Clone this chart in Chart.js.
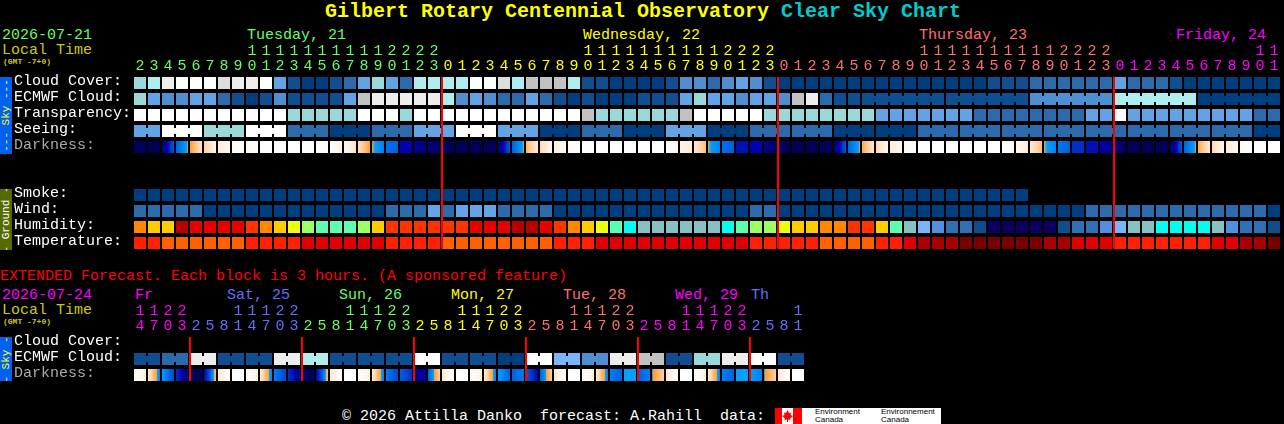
<!DOCTYPE html>
<html><head><meta charset="utf-8">
<style>
html,body{margin:0;padding:0;background:#000;width:1284px;height:424px;overflow:hidden}
canvas{position:absolute;left:0}
.t{position:absolute;font:15px/15px "Liberation Mono",monospace;white-space:pre}
.s{position:absolute;left:0;width:12px;display:flex;align-items:center;justify-content:center;overflow:hidden}
.s span{display:block;transform:rotate(-90deg);font:11px/11px "Liberation Mono",monospace;white-space:pre}
.sm{font:bold 8px/8px "Liberation Mono",monospace;color:#cccc00}
</style>
<script src="https://cdn.jsdelivr.net/npm/chart.js@4"></script>
</head><body>
<div class="t" style="left:325px;top:1px;font:bold 20px/22px 'Liberation Mono',monospace;color:#ffff00">Gilbert Rotary Centennial Observatory <span style="color:#00cccc">Clear Sky Chart</span></div>
<div class="t" style="left:2px;top:28px;color:#66ff66">2026-07-21</div>
<div class="t" style="left:2px;top:43px;color:#cccc00">Local Time</div>
<div class="t sm" style="left:3px;top:58px">(GMT -7+0)</div>
<div class="t" style="left:247px;top:28px;color:#66ff66">Tuesday, 21</div>
<div class="t" style="left:583px;top:28px;color:#ffff00">Wednesday, 22</div>
<div class="t" style="left:919px;top:28px;color:#ff7070">Thursday, 23</div>
<div class="t" style="left:1176px;top:28px;color:#ff00ff">Friday, 24</div>
<div class="t" style="left:0;top:269px;color:#ff0000">EXTENDED Forecast. Each block is 3 hours. (A sponsored feature)</div>
<div class="t" style="left:2px;top:288px;color:#ff00ff">2026-07-24</div>
<div class="t" style="left:2px;top:303px;color:#cccc00">Local Time</div>
<div class="t sm" style="left:3px;top:318px">(GMT -7+0)</div>
<div class="t" style="left:135px;top:288px;color:#ff00ff">Fr</div>
<div class="t" style="left:227px;top:288px;color:#6a6aff">Sat, 25</div>
<div class="t" style="left:339px;top:288px;color:#66ff66">Sun, 26</div>
<div class="t" style="left:451px;top:288px;color:#ffff00">Mon, 27</div>
<div class="t" style="left:563px;top:288px;color:#ff7070">Tue, 28</div>
<div class="t" style="left:675px;top:288px;color:#ff00ff">Wed, 29</div>
<div class="t" style="left:751px;top:288px;color:#6a6aff">Th</div>
<div class="s" style="top:77px;height:77px;background:#0060f0"><span style="color:#ffff00">--- Sky ---</span></div>
<div class="s" style="top:189px;height:61px;background:#556b00"><span style="color:#ffffff">- Ground -</span></div>
<div class="s" style="top:337px;height:44px;background:#0060f0"><span style="color:#ffff00">- Sky -</span></div>
<div class="t" style="left:342px;top:409px;color:#fff">© 2026 Attilla Danko  forecast: A.Rahill  data:</div>
<div style="position:absolute;left:775px;top:408px;width:166px;height:16px;background:#fff;overflow:hidden">
  <div style="position:absolute;left:0;top:0;width:7px;height:16px;background:#f00"></div>
  <div style="position:absolute;left:18px;top:0;width:9px;height:16px;background:#f00"></div>
  <svg style="position:absolute;left:7px;top:2px" width="11" height="12" viewBox="0 0 11 12"><polygon fill="#f00" points="5.5,0 7,3 9,2.5 8.5,5 11,6 8,8.5 8.5,10 6,9.5 6,12 5,12 5,9.5 2.5,10 3,8.5 0,6 2.5,5 2,2.5 4,3" /></svg>
  <div style="position:absolute;left:40px;top:0;font:8px/8px 'Liberation Sans',sans-serif;color:#000">Environment<br>Canada</div>
  <div style="position:absolute;left:106px;top:0;font:8px/8px 'Liberation Sans',sans-serif;color:#000;white-space:nowrap">Environnement<br>Canada</div>
</div>
<canvas id="mainChart" width="1284" height="260" style="top:0"></canvas>
<canvas id="extChart" width="1284" height="92" style="top:296px"></canvas>
<script>
// ---- categories and tick labels ----
const hoursMain=[2,3,4,5,6,7,8,9,10,11,12,13,14,15,16,17,18,19,20,21,22,23,
0,1,2,3,4,5,6,7,8,9,10,11,12,13,14,15,16,17,18,19,20,21,22,23,
0,1,2,3,4,5,6,7,8,9,10,11,12,13,14,15,16,17,18,19,20,21,22,23,
0,1,2,3,4,5,6,7,8,9,10,11];
const hoursExt=[14,17,20,23,2,5,8,11,14,17,20,23,2,5,8,11,14,17,20,23,2,5,8,11,14,17,20,23,
2,5,8,11,14,17,20,23,2,5,8,11,14,17,20,23,2,5,8,11];
const dayStartsMain=[0,22,46,70];
const dayColorsMain=['#66ff66','#ffff00','#ff7070','#ff00ff'];
const dayStartsExt=[0,4,12,20,28,36,44];
const dayColorsExt=['#ff00ff','#6a6aff','#66ff66','#ffff00','#ff7070','#ff00ff','#6a6aff'];
const rowLabelsMain=['Cloud Cover:','ECMWF Cloud:','Transparency:','Seeing:','Darkness:','Smoke:','Wind:','Humidity:','Temperature:'];
const rowPosMain=[0,1,2,3,4,7,8,9,10];
const rowLabelsExt=['Cloud Cover:','ECMWF Cloud:','Darkness:'];
const rowPosExt=[0,1,2];
const midnightsMain=[21.5714,45.5714,69.5714];
const midnightsExt=[3.5714,11.5714,19.5714,27.5714,35.5714,43.5714];

// ---- colour levels ----
const skyColors=['#003f7f','#0f4f8f','#2b6bab','#4f8fcf','#62a3e6','#77b7f7','#99d9d9','#afeeee','#c2c2c2','#dedede','#ededed','#ffffff'];
const windColors=['#003f7f','#2c6cac','#63a3e6'];
const humidityColors=['#0a0060','#0f4e88','#2f70b4','#5090dc','#78b4f8','#87c1c1','#00ffee','#5cffb0','#9cff64','#ecff10','#ffcc00','#ff8800','#ff3300','#e60000','#b80000'];
const tempColors=['#ff6000','#ff2000','#e00000','#a80000','#780000'];
const darkStops=[[0,0,36],[0,0,80],[0,0,128],[0,0,176],[0,48,200],[0,96,224],[0,160,255],[255,160,48],[255,208,160],[255,240,224],[255,255,255]];

// ---- main forecast rows (one value per hour) ----
const cloudCover=[6,7,10,11,11,11,9,10,10,11,4,1,0,0,1,2,4,6,4,2,7,7,
7,7,11,11,9,7,8,8,8,7,1,1,0,0,0,0,1,3,3,2,3,4,3,1,
0,0,0,0,0,0,0,0,0,0,0,0,0,0,0,1,1,1,2,2,2,2,2,2,
4,2,2,2,1,0,0,0,0,0,0,0];
const ecmwfCloud=[6,4,3,3,4,4,2,1,0,1,3,1,1,1,1,4,8,10,10,10,10,10,
7,3,4,3,2,2,4,2,1,0,1,0,0,0,1,1,1,4,6,4,4,3,4,4,
3,8,10,2,1,1,1,1,1,1,1,1,1,1,1,1,1,1,3,3,3,3,3,3,
7,7,7,7,7,7,0,0,0,0,0,0];
const ecmwfGroups=[52,6,6,6,6,6];
const transparency=[11,11,11,11,11,11,11,11,11,11,11,6,6,6,6,6,11,11,11,6,11,11,
11,11,11,11,11,11,11,11,11,11,8,6,6,6,6,6,6,8,11,11,11,11,11,6,
6,6,6,6,6,6,6,4,4,4,4,4,4,4,2,2,2,2,2,2,2,2,4,4,
11,4,4,4,4,4,4,4,4,4,2,2];
const seeing=[4,4,11,11,11,6,6,6,11,11,11,2,2,2,0,0,0,2,2,2,4,4,
4,11,11,11,4,4,4,0,0,0,2,2,2,0,0,0,4,4,4,0,0,0,2,2,
2,2,2,2,0,0,0,0,0,0,2,2,2,2,2,2,2,2,2,2,2,2,2,2,
2,2,2,2,2,2,2,2,2,2,0,0];
const seeingGroups=[2,3,3,3,3,3,3,3,3,3,3,3,3,3,3,3,3,3,3,3,3,3,3,3,3,3,3,2];
const darknessStart=[1.3,1,1.5,5,7,8,8.8,9.5,9.6,10,10,10,10,10,10,9.5,8.5,7,5.3,3,2.5,2,
1.2,1.2,1.2,1.1,1.5,5,7.5,8.3,9,9.6,10,10,10,10,10,10,10,9.3,8.7,7,5.3,3.3,3,2.3,
1.2,1.1,1.1,1.1,1.5,5,7.2,8.3,8.8,9.5,10,10,10,10,10,10,10,9.5,8.8,7,5.4,4,3.3,3,
1.8,1.1,1.1,1.1,1.2,5,7.2,8.3,8.8,9.5,10,10];
const darknessEnd=[1.3,1,5,6.9,8.6,9.2,9.5,10,10,10,10,10,10,10,9,8.5,7,5.5,5,3,2,1.5,
1.2,1.2,1.2,1.1,5,7,8.8,9.3,9.6,10,10,10,10,10,10,10,9.3,8.8,7.6,5.5,5,3.3,3,1.5,
1.2,1.1,1.1,1.1,5,7,8.8,9.3,9.5,10,10,10,10,10,10,10,9.5,8.8,7.6,5.5,5,4,3.3,2.5,
1.3,1.1,1.1,1.1,5,7,8.8,9.3,9.5,10,10,10];
const smoke=[0,0,0,0,0,0,0,0,0,0,0,0,0,0,0,0,0,0,0,0,0,0,
0,0,0,0,0,0,0,0,0,0,0,0,0,0,0,0,0,0,0,0,0,0,0,0,
0,0,0,0,0,0,0,0,0,0,0,0,0,0,0,0,0,0];
const wind=[1,1,1,1,1,0,0,0,0,0,0,0,0,0,0,0,0,0,1,1,1,2,
1,2,2,2,1,1,1,1,0,0,0,0,0,0,0,0,0,0,0,0,0,0,1,1,
0,0,0,0,0,0,0,0,0,0,0,0,0,0,0,0,0,0,0,0,0,0,1,1,
1,1,1,1,1,1,1,1,1,1,1,0];
const humidity=[11,10,10,14,13,13,13,13,12,11,10,9,8,7,7,7,8,10,12,12,12,12,
12,12,13,13,13,14,14,13,12,11,10,9,7,6,5,5,5,5,5,5,6,7,8,8,
9,10,10,11,11,12,12,10,7,5,4,3,2,2,1,0,0,0,0,0,1,2,2,3,
4,5,5,6,6,6,6,5,3,2,2,1];
const temperature=[1,1,0,0,0,0,0,0,1,1,1,1,2,2,2,2,2,2,1,1,1,1,
0,0,0,0,0,0,0,0,1,1,1,2,2,2,2,2,2,2,2,2,2,2,1,1,
1,1,1,0,0,0,0,1,1,2,3,3,3,4,4,4,4,4,4,3,3,2,2,2,
1,1,1,1,1,1,1,2,2,3,3,4];

// ---- extended forecast rows (one value per 3 hours) ----
const ecmwfExt=[1,1,2,2,10,10,1,1,1,1,10,10,7,7,1,1,1,1,1,1,11,11,1,1,
1,1,0,0,11,11,5,5,3,3,10,10,8,8,1,1,6,6,10,10,11,11,1,1];
const ecmwfExtGroups=[2,2,2,2,2,2,2,2,2,2,2,2,2,2,2,2,2,2,2,2,2,2,2,2];
const darkExtStart=[10,8.8,6,4,1.3,3,8.6,10,10,8.8,5.5,4,1.4,3,8.6,10,10,8.8,5.5,5,
2,5,8.6,10,10,8.8,6,5,5,5,8.6,10,10,8.8,5.5,6,5,6,8.6,10,10,8.8,5.5,6,6,6,8.6,10];
const darkExtEnd=[9,5.5,4.5,2,1.1,7.6,10,10,9,5.5,4.5,2.5,1.2,7.6,10,10,9,5.5,4.5,4,
3,8,10,10,9,5.5,5,5.5,3,8,10,10,9,5.5,5,6,5.5,8,10,10,9,5.5,5,6,5.5,8,10,10];

// ---- helpers that turn the series into bar datasets ----
const HALF=0.375, NOTCH=0.19, CELL=14, LEFT=134;
const XMIN=-6/CELL, XMAX=(1284-LEFT-6)/CELL;
function cellData(vals,r){return vals.map((v,i)=>({x:i,y:[r-HALF,r+HALF]}));}
function cellSet(vals,r,colors){
  return {data:cellData(vals,r),backgroundColor:vals.map(v=>colors[v]),barThickness:12,order:2};
}
function linkSet(vals,r,colors,groups,first){
  const pts=[],cols=[];let s=first||0;
  groups.forEach((n,gi)=>{
    if(first&&gi===0){s=n;return;}
    for(let k=0;k<n-1;k++){pts.push({x:s+k+0.5,y:[r-NOTCH,r+NOTCH]});cols.push(colors[vals[s+k]]);}
    s+=n;
  });
  return {xAxisID:'xLink',data:pts,backgroundColor:cols,barThickness:2,order:2};
}
function darkColor(l){
  const a=Math.floor(l),b=Math.min(10,a+1),f=l-a,A=darkStops[a],B=darkStops[b];
  return 'rgb('+A.map((c,j)=>Math.round(c+(B[j]-c)*f)).join(',')+')';
}
// the blue-to-orange step of twilight is narrow, so it takes little of a cell's width
function darkPos(l){return l<=6?l:l<=7?6+0.15*(l-6):l-0.85;}
function darkSet(startV,endV,r){
  return {data:cellData(startV,r),barThickness:12,order:2,
    backgroundColor(c){
      const i=c.dataIndex;
      if(i===undefined||i===null||!c.chart.chartArea)return '#000';
      const L=startV[i],R=endV[i];
      if(L===R)return darkColor(L);
      const px=c.chart.scales.x.getPixelForValue(i);
      const g=c.chart.ctx.createLinearGradient(px-6,0,px+6,0);
      const lo=Math.min(L,R),hi=Math.max(L,R);
      g.addColorStop(0,darkColor(L));
      for(let k=Math.ceil(lo+1e-6);k<hi;k++)g.addColorStop((darkPos(k)-darkPos(L))/(darkPos(R)-darkPos(L)),darkColor(k));
      g.addColorStop(1,darkColor(R));
      return g;
    }};
}
function redSet(vals,top,bottom){
  return {xAxisID:'xMark',data:vals.map(v=>({x:v,y:[top,bottom]})),backgroundColor:'#ff0000',barThickness:2,order:0};
}
function tickColor(starts,colors){
  return c=>{let k=0;starts.forEach((s,j)=>{if(c.index>=s)k=j;});return colors[k];};
}
function noPad(a){a.paddingLeft=0;a.paddingRight=0;a.paddingTop=0;a.paddingBottom=0;}
function makeChart(id,hours,starts,colors,rowPos,rowLabels,yMin,yMax,axisH,padBottom,datasets){
  const hidden=()=>({type:'linear',display:false,min:XMIN,max:XMAX,offset:false,grid:{offset:false}});
  return new Chart(document.getElementById(id),{
    type:'bar',
    data:{datasets},
    options:{
      responsive:false,animation:false,devicePixelRatio:1,
      layout:{padding:{left:14,right:0,top:0,bottom:padBottom}},
      plugins:{legend:{display:false},tooltip:{enabled:false},title:{display:false}},
      datasets:{bar:{grouped:false,borderWidth:0,inflateAmount:0,borderSkipped:false}},
      scales:{
        x:{type:'linear',position:'top',min:XMIN,max:XMAX,offset:false,
          grid:{display:false,drawTicks:false,offset:false},border:{display:false},
          afterBuildTicks:a=>{a.ticks=hours.map((h,i)=>({value:i}));},
          afterFit:a=>{a.height=axisH;noPad(a);},
          ticks:{autoSkip:false,maxRotation:0,minRotation:0,padding:3,
            font:{family:'"Liberation Mono",monospace',size:15,lineHeight:1},
            color:tickColor(starts,colors),
            callback:(v,i)=>{const h=hours[i];return [h>=10?String(Math.floor(h/10)):' ',String(h%10)];}}},
        xLink:hidden(),xMark:hidden(),
        y:{type:'linear',position:'left',reverse:true,min:yMin,max:yMax,
          grid:{display:false,drawTicks:false},border:{display:false},
          afterBuildTicks:a=>{a.ticks=rowPos.map(v=>({value:v-0.125}));},
          afterFit:a=>{a.width=120;noPad(a);},
          ticks:{autoSkip:false,crossAlign:'far',padding:0,
            font:{family:'"Liberation Mono",monospace',size:15,lineHeight:1},
            color:c=>rowLabels[c.index]==='Darkness:'?'#aaaaaa':'#ffffff',
            callback:(v,i)=>rowLabels[i]}}
      }
    }
  });
}
makeChart('mainChart',hoursMain,dayStartsMain,dayColorsMain,rowPosMain,rowLabelsMain,-HALF,10+HALF,77,11,[
  redSet(midnightsMain,-HALF,10+HALF),
  cellSet(cloudCover,0,skyColors),
  cellSet(ecmwfCloud,1,skyColors),
  linkSet(ecmwfCloud,1,skyColors,ecmwfGroups,52),
  cellSet(transparency,2,skyColors),
  cellSet(seeing,3,skyColors),
  linkSet(seeing,3,skyColors,seeingGroups),
  darkSet(darknessStart,darknessEnd,4),
  cellSet(smoke,7,skyColors),
  cellSet(wind,8,windColors),
  cellSet(humidity,9,humidityColors),
  cellSet(temperature,10,tempColors)
]);
makeChart('extChart',hoursExt,dayStartsExt,dayColorsExt,rowPosExt,rowLabelsExt,-HALF,2+HALF,41,7,[
  redSet(midnightsExt,-HALF,2+HALF),
  cellSet(ecmwfExt,1,skyColors),
  linkSet(ecmwfExt,1,skyColors,ecmwfExtGroups),
  darkSet(darkExtStart,darkExtEnd,2)
]);
</script>
</body></html>
